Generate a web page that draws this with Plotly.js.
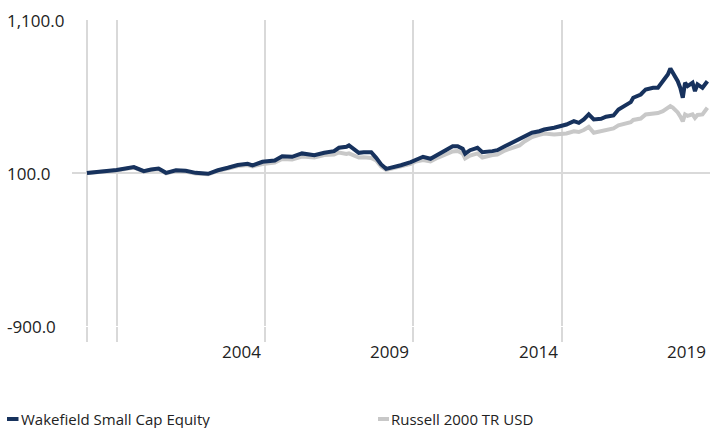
<!DOCTYPE html>
<html>
<head>
<meta charset="utf-8">
<script src="https://cdn.plot.ly/plotly-3.0.1.min.js"></script>
<style>html,body{margin:0;padding:0;background:#fff;}#chart{width:710px;height:428px;}</style>
</head>
<body>
<div id="chart"></div>
<script>
// ---- data ----
const seriesNames = ["Wakefield Small Cap Equity", "Russell 2000 TR USD"];

const dates = [
  "1999-01","1999-06","2000-01","2000-08","2000-12","2001-03","2001-06","2001-09","2002-01","2002-05",
  "2002-09","2003-02","2003-06","2003-10","2004-02","2004-06","2004-08","2004-12","2005-05","2005-08",
  "2005-12","2006-04","2006-09","2007-01","2007-05","2007-07","2007-10","2007-11","2008-03","2008-05",
  "2008-08","2008-10","2008-12","2009-02","2009-04","2009-08","2009-12","2010-02","2010-05","2010-08",
  "2010-11","2011-02","2011-05","2011-07","2011-09","2011-10","2011-12","2012-03","2012-05","2012-09",
  "2012-11","2013-02","2013-05","2013-08","2013-10","2014-01","2014-04","2014-06","2014-10","2014-12",
  "2015-03","2015-06","2015-08","2015-10","2015-12","2016-02","2016-05","2016-07","2016-10","2016-12",
  "2017-02","2017-05","2017-06","2017-09","2017-11","2018-02","2018-04","2018-06","2018-08","2018-09",
  "2018-10","2018-12","2019-01","2019-02","2019-03","2019-04","2019-06","2019-07","2019-08","2019-10","2019-12"
];

const wakefield = [
  100,108,120,139,112,123,129,101,118,114,
  101,95,118,134,152,160,149,173,182,210,
  206,228,216,232,243,265,271,280,232,236,
  236,199,156,127,134,151,171,188,206,193,
  221,247,275,275,258,226,249,265,236,243,
  249,275,298,319,341,363,373,384,396,406,
  417,439,428,450,483,450,454,468,476,515,
  537,563,592,613,646,657,657,700,744,783,
  755,700,657,592,690,668,690,635,679,657,700
];

const russell = [
  100,106,117,135,110,120,125,98,114,110,
  97,92,114,129,146,152,143,159,169,192,
  188,208,201,218,221,234,224,228,201,203,
  198,182,143,120,126,143,159,175,185,175,
  201,221,241,244,228,195,214,228,201,218,
  221,247,264,280,306,335,349,358,352,352,
  358,373,368,381,401,363,375,384,391,411,
  417,432,447,456,483,489,492,504,528,537,
  528,496,470,437,483,473,483,460,479,483,526
];

// x grid/tick positions (year boundaries) and the year labels drawn just left of them
const xTickVals = ["1999-01-01","2000-01-01","2005-01-01","2010-01-01","2015-01-01"];
const xLabelPos = ["2005-01-01","2010-01-01","2015-01-01","2020-01-01"];
const xLabelText = ["2004", "2009", "2014", "2019"];
const yTickVals = [-900, 100, 1100];

// ---- styling ----
const NAVY = "#17325d";
const GRAY = "#c8c8c8";
const GRID = "#d9d9d9";
const TXT = "#222222";
const FONT = "Open Sans, Noto Sans, sans-serif";

const W = 710, H = 428;
const M = {l: 72, r: 0, t: 20, b: 102};
const PW = W - M.l - M.r, PH = H - M.t - M.b;
const px2x = p => (p - M.l) / PW;
const px2y = p => (H - M.b - p) / PH;

const traces = [
  {x: dates, y: russell, name: seriesNames[1], type: "scatter", mode: "lines",
   line: {color: GRAY, width: 4}, hoverinfo: "skip"},
  {x: dates, y: wakefield, name: seriesNames[0], type: "scatter", mode: "lines",
   line: {color: NAVY, width: 4}, hoverinfo: "skip"}
];

const fmt = v => v.toLocaleString("en-US", {minimumFractionDigits: 1, maximumFractionDigits: 1});

const annotations = yTickVals.map(v => ({
  xref: "paper", yref: "y", x: px2x(5), y: v, xanchor: "left", yanchor: "middle",
  text: fmt(v), showarrow: false, font: {family: FONT, size: 17, color: TXT}
}));

xLabelPos.forEach((d, i) => {
  annotations.push({
    xref: "x", yref: "paper", x: d, y: px2y(351), xanchor: "right", yanchor: "middle",
    xshift: -2, text: xLabelText[i], showarrow: false,
    font: {family: FONT, size: 17, color: TXT}
  });
});

const legendY = px2y(419);
const legendItems = [
  {name: seriesNames[0], color: NAVY, x0: 7, x1: 18.5, tx: 19},
  {name: seriesNames[1], color: GRAY, x0: 378, x1: 389, tx: 389}
];
const shapes = [];
legendItems.forEach(it => {
  shapes.push({type: "line", xref: "paper", yref: "paper",
    x0: px2x(it.x0), x1: px2x(it.x1), y0: legendY, y1: legendY,
    line: {color: it.color, width: 4}});
  annotations.push({xref: "paper", yref: "paper", x: px2x(it.tx), y: legendY,
    xanchor: "left", yanchor: "middle", text: it.name, showarrow: false,
    font: {family: FONT, size: 15, color: TXT}});
});

const layout = {
  width: W, height: H,
  margin: M,
  paper_bgcolor: "#ffffff", plot_bgcolor: "#ffffff",
  showlegend: false,
  font: {family: FONT, color: TXT},
  xaxis: {
    type: "date", range: ["1998-07-01", "2020-01-02"],
    tickmode: "array", tickvals: xTickVals,
    showticklabels: false,
    ticks: "outside", ticklen: 15, tickwidth: 2, tickcolor: GRID,
    showgrid: true, gridcolor: GRID, gridwidth: 2,
    showline: false, zeroline: false
  },
  yaxis: {
    range: [-900, 1100], tickmode: "array", tickvals: yTickVals,
    showticklabels: false, ticks: "",
    showgrid: true, gridcolor: GRID, gridwidth: 2,
    showline: false, zeroline: false
  },
  annotations: annotations,
  shapes: shapes
};

Plotly.newPlot("chart", traces, layout, {staticPlot: true, displayModeBar: false});
</script>
</body>
</html>
